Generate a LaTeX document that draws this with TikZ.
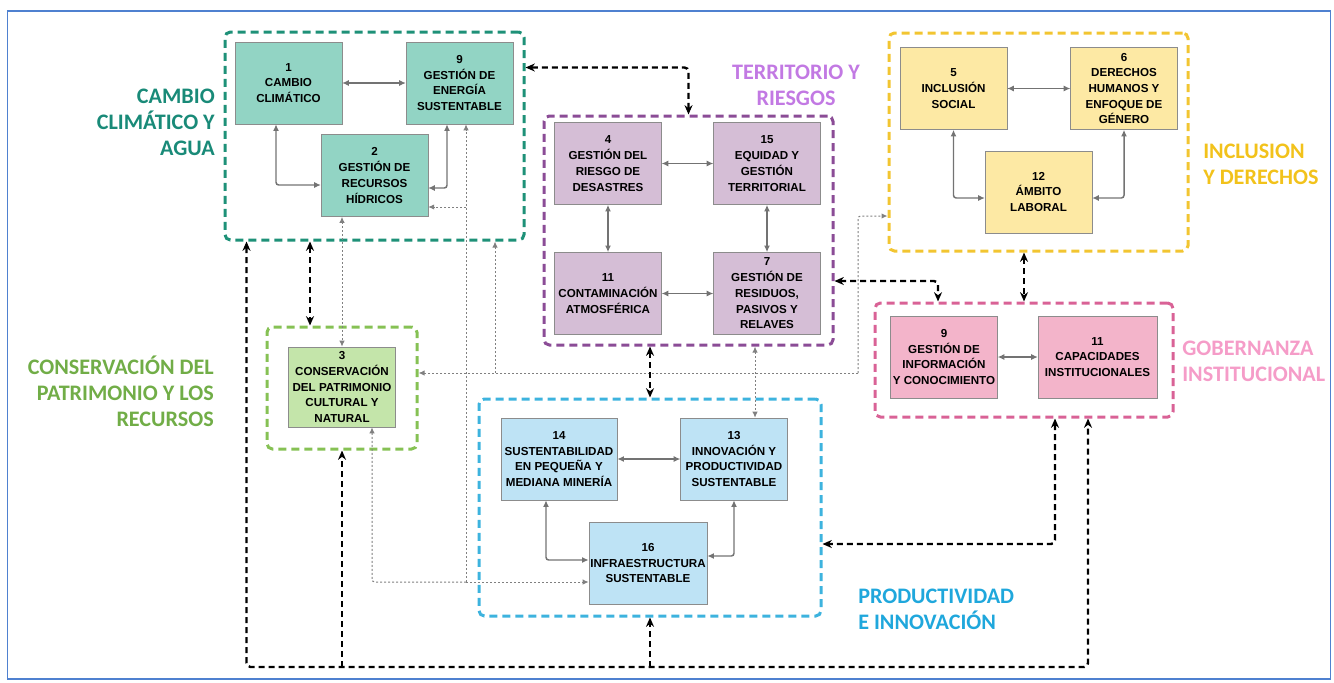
\documentclass[tikz,border=0pt]{standalone}
\usepackage{fontspec}
\setmainfont{Liberation Sans}
\newfontfamily\areafont{Carlito}
\usetikzlibrary{positioning}
\usetikzlibrary{calc}
\usetikzlibrary{fit}
\usetikzlibrary{arrows.meta}
\definecolor{clima fill}{RGB}{146,212,196}
\definecolor{clima line}{RGB}{30,145,120}
\definecolor{clima text}{RGB}{25,138,120}
\definecolor{terr fill}{RGB}{213,190,214}
\definecolor{terr line}{RGB}{139,76,150}
\definecolor{terr text}{RGB}{194,121,227}
\definecolor{incl fill}{RGB}{253,233,164}
\definecolor{incl line}{RGB}{242,197,49}
\definecolor{incl text}{RGB}{242,194,27}
\definecolor{gob fill}{RGB}{243,180,202}
\definecolor{gob line}{RGB}{217,98,150}
\definecolor{gob text}{RGB}{245,156,200}
\definecolor{cons fill}{RGB}{196,229,170}
\definecolor{cons line}{RGB}{134,193,84}
\definecolor{cons text}{RGB}{113,173,71}
\definecolor{prod fill}{RGB}{190,227,245}
\definecolor{prod line}{RGB}{61,179,222}
\definecolor{prod text}{RGB}{31,167,220}
\colorlet{tie colour}{black!55}
\colorlet{hint colour}{black!50}
\definecolor{frame colour}{RGB}{79,129,208}
\tikzset{
    % Arrow tips for the three kinds of connector
    btip/.tip={Stealth[length=7pt, width=6pt]},
    gtip/.tip={Latex[length=5pt, width=4.5pt]},
    dtip/.tip={Latex[length=4.5pt, width=4pt]},
    >=btip,
%
    % Topic boxes, one fill per area
    box/.style={
        draw=black!45, rectangle, thin, align=center, inner sep=1pt,
        font=\fontsize{8.7}{11.8}\selectfont\bfseries,
        minimum width=80pt, minimum height=61.5pt},
    clima/.style={box, fill=clima fill},
    terr/.style={box, fill=terr fill},
    incl/.style={box, fill=incl fill},
    gob/.style={box, fill=gob fill},
    cons/.style={box, fill=cons fill},
    prod/.style={box, fill=prod fill},
%
    % Dashed frame round each area
    group/.style={
        draw=#1, rectangle, rounded corners=4pt, line width=2.25pt,
        dash pattern=on 6pt off 3.75pt, inner sep=0pt},
    area label/.style={
        text=#1, inner sep=0pt,
        font=\areafont\fontsize{16.6}{19.5}\selectfont\bfseries},
%
    % Connectors
    tie/.style={draw=tie colour, line width=1.1pt, rounded corners=2pt,
        {gtip}-{gtip}},
    hint/.style={draw=hint colour, line width=0.75pt, rounded corners=2pt,
        dash pattern=on 1.5pt off 1.5pt, >=dtip},
    link/.style={draw=black, line width=1.8pt, rounded corners=3pt,
        dash pattern=on 4.5pt off 3pt},
    frame/.style={draw=frame colour, line width=1.1pt},
}

\begin{document}
\begin{tikzpicture}[
    x=0.75pt, y=-0.75pt]

\useasboundingbox (0,0) rectangle (1334,682);
\draw [frame] (7.5,11) rectangle (1330.5,679);

\path
    (288.5,83) node [clima] (clima) {1\\CAMBIO\\CLIMÁTICO}
    ++(171,0) node [clima] (energia) {9\\GESTIÓN DE\\ENERGÍA\\SUSTENTABLE}
    ++(-85,92.5) node [clima] (hidricos) {2\\GESTIÓN DE\\RECURSOS\\HÍDRICOS}
    (608,163.5) node [terr] (riesgo) {4\\GESTIÓN DEL\\RIESGO DE\\DESASTRES}
    ++(159,0) node [terr] (equidad) {15\\EQUIDAD Y\\GESTIÓN\\TERRITORIAL}
    (riesgo) ++(0,130) node [terr] (contaminacion) {11\\CONTAMINACIÓN\\ATMOSFÉRICA}
    ++(159,0) node [terr] (residuos) {7\\GESTIÓN DE\\RESIDUOS,\\PASIVOS Y\\RELAVES}
    (953.5,88.5) node [incl] (inclusion) {5\\INCLUSIÓN\\SOCIAL}
    ++(170.5,0) node [incl] (derechos) {6\\DERECHOS\\HUMANOS Y\\ENFOQUE DE\\GÉNERO}
    (1038.5,192) node [incl] (laboral) {12\\ÁMBITO\\LABORAL}
    (944,357) node [gob] (informacion) {9\\GESTIÓN DE\\INFORMACIÓN\\Y CONOCIMIENTO}
    ++(153.5,0) node [gob, minimum width=89pt] (capacidades) {11\\CAPACIDADES\\INSTITUCIONALES}
    (342,387) node [cons, minimum height=60pt] (patrimonio) {3\\CONSERVACIÓN\\DEL PATRIMONIO\\CULTURAL Y\\NATURAL}
    (559,459) node [prod, minimum width=87pt] (mineria) {14\\SUSTENTABILIDAD\\EN PEQUEÑA Y\\MEDIANA MINERÍA}
    ++(175,0) node [prod] (innovacion) {13\\INNOVACIÓN Y\\PRODUCTIVIDAD\\SUSTENTABLE}
    (648,563) node [prod, minimum width=88.5pt] (infra) {16\\INFRAESTRUCTURA\\SUSTENTABLE};

\node [group=clima line, fit={(225,32) (524,240)}] (g clima) {};
\node [group=terr line, fit={(544,116) (833,345)}] (g terr) {};
\node [group=incl line, fit={(889,33) (1188,251)}] (g incl) {};
\node [group=gob line, fit={(875,303) (1173,417)}] (g gob) {};
\node [group=cons line, fit={(267,327) (417,449)}] (g cons) {};
\node [group=prod line, fit={(479,399) (821,616)}] (g prod) {};

\node [area label=clima text, anchor=east, align=right] (l clima)
    at (215,122) {CAMBIO\\CLIMÁTICO Y\\AGUA};
\node [area label=terr text, align=center] (l terr)
    at (796,85) {TERRITORIO Y\\RIESGOS};
\node [area label=incl text, anchor=west, align=left] (l incl)
    at (1203,164) {INCLUSION\\Y DERECHOS};
\node [area label=gob text, anchor=west, align=left] (l gob)
    at (1182,361) {GOBERNANZA\\INSTITUCIONAL};
\node [area label=cons text, anchor=east, align=right] (l cons)
    at (214,391) {CONSERVACIÓN DEL\\PATRIMONIO Y LOS\\RECURSOS};
\node [area label=prod text, anchor=west, align=left] (l prod)
    at (858,609) {PRODUCTIVIDAD\\E INNOVACIÓN};

% links inside the areas
\draw [tie] (clima) -- (energia);
\draw [tie] ($(clima.south)+(-12.5,0)$) |- ($(hidricos.west)+(0,9.5)$);
\draw [tie] ($(hidricos.east)+(0,12.5)$) -| ($(energia.south)+(-12.5,0)$);
\draw [tie] (riesgo) -- (equidad);
\draw [tie] (riesgo) -- (contaminacion);
\draw [tie] (equidad) -- (residuos);
\draw [tie] (contaminacion) -- (residuos);
\draw [tie] (inclusion) -- (derechos);
\draw [tie] (inclusion.south) |- ($(laboral.west)+(0,6)$);
\draw [tie] (derechos.south) |- ($(laboral.east)+(0,6)$);
\draw [tie] (informacion) -- (capacidades);
\draw [tie] (mineria) -- (innovacion);
\draw [tie] ($(mineria.south)+(-13,0)$) |- ($(infra.west)+(0,-3)$);
\draw [tie] (innovacion.south) |- ($(infra.east)+(0,-7)$);

% thin dotted links
\coordinate (hub social) at (858,373);
\coordinate (hub clima) at (495,373);
\coordinate (hub infra) at (466,582);
\coordinate (hub agua) at (466,207);
\coordinate (hub residuos) at ($(innovacion.north)+(21,0)$);
\draw [hint, <->] (patrimonio.north |- hidricos.south) -- (patrimonio.north);
\draw [hint, ->] (hub social) |- ($(g incl.west)+(0,74)$);
\draw [hint, ->] (hub social) -- (hub social -| g cons.east);
\draw [hint, ->] (hub clima) -- (hub clima |- g clima.south);
\draw [hint, ->] (hub infra) -- (hub infra -| infra.west);
\draw [hint, ->] (hub infra) -- (hub infra |- energia.south);
\draw [hint, ->] (hub agua) -- (hub agua -| hidricos.east);
\draw [hint, ->] (hub infra) -| ($(patrimonio.south)+(30,0)$);
\draw [hint, <->] (hub residuos |- g terr.south) -- (hub residuos);

% links between the areas
\coordinate (hub cons) at ($(g cons.north)+(-32,0)$);
\coordinate (base) at (650,667);
\draw [link, <->] (g terr.north) |- ($(g clima.north east)+(0,37)$);
\draw [link, <->] (hub cons |- g clima.south) -- (hub cons);
\draw [link, <->] (g terr.south -| g prod.north) -- (g prod.north);
\draw [link, <->] ($(g terr.east)+(0,50.5)$) -| ($(g gob.north)+(-86,0)$);
\draw [link, <->] (g gob.north |- g incl.south) -- (g gob.north);
\draw [link, <->] ($(g gob.south)+(31,0)$) |- ($(g prod.east)+(0,36.5)$);
\draw [link, <->] ($(g clima.south west)+(23,0)$) |- (base)
    -| ($(g gob.south)+(64,0)$);
\draw [link, ->] (base) -- (g prod.south);
\draw [link, ->] (g cons.south |- base) -- (g cons.south);

\end{tikzpicture}
\end{document}
